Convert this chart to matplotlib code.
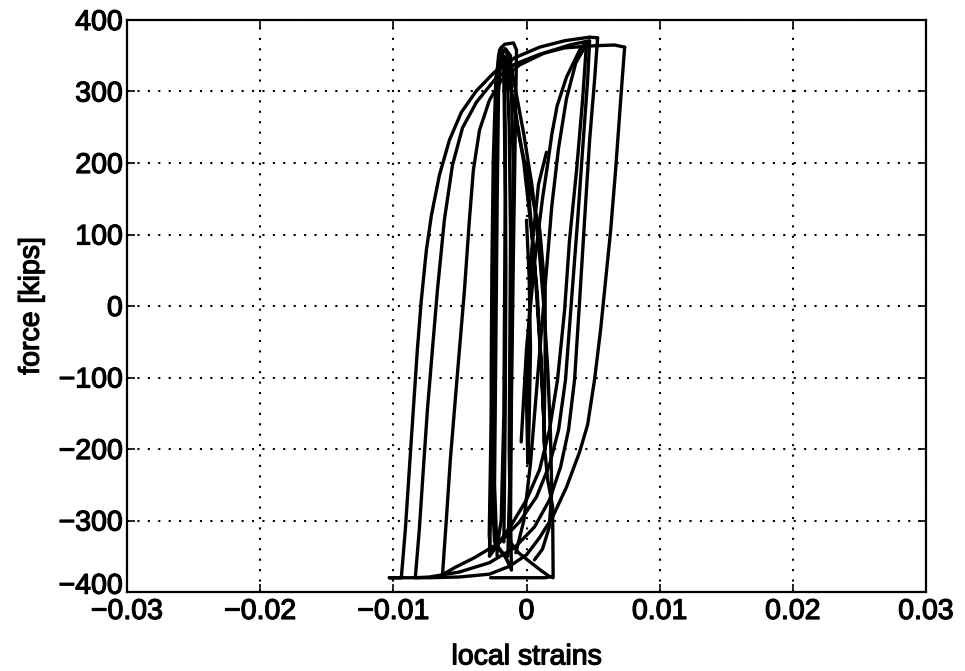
import matplotlib
matplotlib.use("Agg")
import matplotlib.pyplot as plt
import matplotlib.patheffects as pe
import matplotlib.transforms as mtransforms

plt.rcParams['font.family'] = ['Liberation Sans', 'DejaVu Sans']

# Axis ticks and labels
x_ticks = [-0.03, -0.02, -0.01, 0.0, 0.01, 0.02, 0.03]
x_tick_labels = ['\u22120.03', '\u22120.02', '\u22120.01', '0', '0.01', '0.02', '0.03']
y_ticks = [-400, -300, -200, -100, 0, 100, 200, 300, 400]
y_tick_labels = ['\u2212400', '\u2212300', '\u2212200', '\u2212100', '0', '100', '200', '300', '400']

# Outer cycle: unloading from the largest positive strain, yield plateau, reloading
outer_strain = [0.00737, 0.00707, 0.00669, 0.00632, 0.00594, 0.00556, 0.00511, 0.00459,
                0.00399, 0.00301, 0.00196, 0.00098, 0.0, -0.00128, -0.00278, -0.00504,
                -0.00729, -0.0103, -0.0094, -0.0091, -0.0088, -0.0085, -0.0082, -0.0079,
                -0.00752, -0.00714, -0.00654, -0.00579, -0.00489, -0.00376, -0.00241,
                -0.0009, 0.00098, 0.00286, 0.00474, 0.00534]
outer_force = [362, 288, 190, 106, 36, -34, -103, -166,
               -204, -253, -295, -324, -348, -364, -375, -379,
               -380, -380, -380, -313, -229, -145, -62, 8,
               78, 127, 183, 232, 271, 301, 327,
               347, 362, 371, 376, 375]

# Second cycle
cycle2_strain = [0.00534, 0.00511, 0.00474, 0.00436, 0.00399, 0.00361, 0.00316, 0.00256,
                 0.00173, 0.0006, -0.0009, -0.00278, -0.00504, -0.00729, -0.00835,
                 -0.00805, -0.00775, -0.00744, -0.00707, -0.00669, -0.00617, -0.00556,
                 -0.00481, -0.00376, -0.00241, -0.0009, 0.00098, 0.00286, 0.00511,
                 0.00662, 0.00737]
cycle2_force = [375, 316, 232, 120, 8, -103, -173, -225,
                -271, -309, -338, -359, -372, -379, -380,
                -313, -229, -145, -62, 22, 120, 197,
                249, 285, 316, 338, 352, 361, 364,
                365, 362]

# Third cycle
cycle3_strain = [-0.00632, -0.00602, -0.00572, -0.00541, -0.00504, -0.00466, -0.00429,
                 -0.00399, -0.00353, -0.00278, -0.00188, -0.00053, 0.00135, 0.00323,
                 0.00474, 0.00459, 0.00421, 0.00384, 0.00338, 0.00293, 0.00241, 0.00173,
                 0.00075, -0.00053, -0.00203, -0.00391, -0.00541, -0.00632]
cycle3_force = [-379, -299, -215, -145, -62, 22, 120,
                190, 246, 288, 316, 337, 354, 365,
                371, 316, 218, 120, 8, -103, -173, -222,
                -267, -302, -331, -352, -366, -376]

# Fourth cycle, ending in the narrow band near -0.002
cycle4_strain = [0.00451, 0.00421, 0.00376, 0.00323, 0.00286, 0.00233, 0.00173, 0.00098,
                 0.0, -0.00113, -0.00218, -0.00278, -0.00263, -0.00248, -0.00233,
                 -0.00218, -0.00203, -0.00165, -0.00098, -0.00075, -0.00083, -0.00098,
                 -0.00113, -0.0012, -0.00113]
cycle4_force = [369, 288, 190, 92, -6, -103, -173, -229,
                -271, -306, -334, -350, -243, -62, 148,
                302, 358, 366, 368, 358, 260, 78,
                -131, -299, -369]

# Small cycles within the narrow band
band_strain = [-0.00113, -0.0016, -0.0021, -0.00245, -0.00255, -0.0025, -0.0024,
               -0.0023, -0.0021, -0.0019, -0.0017, -0.0016, -0.00165, -0.0017,
               -0.0019, -0.0022, -0.0027, -0.0028, -0.0026, -0.0024, -0.0022,
               -0.0020, -0.0016, -0.0012, -0.0010, -0.0011, -0.0012, -0.0014]
band_force = [-369, -350, -340, -300, -150, 0, 150,
              300, 350, 362, 340, 150, 0, -150,
              -300, -335, -345, -320, -100, 100, 280,
              345, 360, 350, 200, 0, -200, -350]

band2_strain = [-0.0013, -0.0018, -0.0024, -0.0026, -0.00265, -0.0026, -0.0025, -0.0023,
                -0.0020, -0.0015, -0.0013, -0.0012, -0.00125, -0.0013, -0.0012]
band2_force = [-360, -345, -330, -250, -100, 50, 200, 320,
               355, 345, 250, 100, -50, -200, -330]

band3_strain = [-0.0022, -0.0024, -0.0023, -0.0022, -0.0021, -0.0019, -0.0017, -0.0016,
                -0.00155, -0.0016, -0.0017]
band3_force = [-350, -250, -50, 150, 300, 350, 340, 250, 50, -150, -330]

# Diagonal excursions to the right of the band
diag_strain = [-0.0015, -0.0013, -0.0011, -0.0005, 0.00023, 0.001, 0.0014, 0.0014,
               0.0013, 0.0016, 0.00196, 0.002, 0.0014, 0.0, -0.0027]
diag_force = [358, 320, 297, 232, 169, 106, 20, -87,
              -188, -244, -280, -378, -380, -380, -380]

diag2_strain = [-0.0012, -0.0008, -0.0002, 0.0004, 0.0009, 0.0013, 0.0016, 0.0018,
                0.0019, 0.0017, 0.0012, 0.0006]
diag2_force = [340, 300, 240, 170, 90, 0, -90, -180,
               -260, -310, -340, -355]

cross_strain = [-0.0015, -0.0011, -0.0006, 0.0002, 0.0011, 0.0017, 0.002]
cross_force = [-320, -333, -345, -357, -370, -378, -380]

vee_strain = [-0.0004, 0.0, 0.0006, 0.0012, 0.0016, 0.0019, 0.0023, 0.0030, 0.0041, 0.0045]
vee_force = [-190, -60, 60, 150, 200, 240, 280, 320, 362, 368]

rise_strain = [-0.0008, -0.0002, 0.0003, 0.0007, 0.0011, 0.0015, 0.0019, 0.0024, 0.0030,
               0.0037, 0.0045]
rise_force = [-345, -300, -220, -130, -40, 50, 140, 220, 290, 340, 366]

vee2_strain = [-0.0015, -0.0009, -0.0002, 0.0004, 0.0008, 0.0011, 0.0014, 0.0011, 0.0006,
               0.0002, 0.0]
vee2_force = [330, 280, 200, 100, 20, -80, -200, -80, 60, 150, 200]

stub_strain = [0.0, 0.0002, 0.0003, 0.0002, 0.0001, 0.0, 0.0002, 0.0004, 0.0009, 0.0015]
stub_force = [120, 40, -60, -160, -220, -130, -20, 80, 170, 215]

fig = plt.figure(figsize=(9.65, 6.71), dpi=100)
ax = fig.add_axes([0.1316, 0.1177, 0.8280, 0.8525])

line_kw = dict(color='black', linewidth=2.4, solid_joinstyle='round', solid_capstyle='round')
for xs, ys in [(outer_strain, outer_force), (cycle2_strain, cycle2_force),
               (cycle3_strain, cycle3_force), (cycle4_strain, cycle4_force),
               (band_strain, band_force), (band2_strain, band2_force),
               (band3_strain, band3_force), (diag_strain, diag_force),
               (diag2_strain, diag2_force), (cross_strain, cross_force),
               (vee_strain, vee_force), (rise_strain, rise_force),
               (vee2_strain, vee2_force), (stub_strain, stub_force)]:
    ax.plot(xs, ys, **line_kw)

ax.set_xlim(-0.03, 0.03)
ax.set_ylim(-400, 400)
ax.set_xticks(x_ticks)
ax.set_xticklabels(x_tick_labels)
ax.set_yticks(y_ticks)
ax.set_yticklabels(y_tick_labels)

ax.grid(True, color='black', linestyle=(0, (1, 4)), linewidth=1.5)
ax.tick_params(axis='x', pad=5)
ax.tick_params(axis='y', pad=3)
ax.tick_params(axis='both', direction='in', length=6, width=1.2, top=True, right=True,
               labelsize=20.5)
for spine in ax.spines.values():
    spine.set_linewidth(1.6)

heavy = [pe.withStroke(linewidth=0.9, foreground='black')]
ax.set_xlabel('local strains', fontsize=20.5, labelpad=14, path_effects=heavy)
ax.set_ylabel('force [kips]', fontsize=20.5, labelpad=10, path_effects=heavy)
for lab in ax.get_xticklabels() + ax.get_yticklabels():
    lab.set_path_effects(heavy)

# Lift the bottom force label a little so it clears the first strain label
bottom_label = ax.get_yticklabels()[0]
bottom_label.set_transform(bottom_label.get_transform() +
                           mtransforms.ScaledTranslation(0, 6 / 72, fig.dpi_scale_trans))

fig.savefig('out.png', dpi=100)
